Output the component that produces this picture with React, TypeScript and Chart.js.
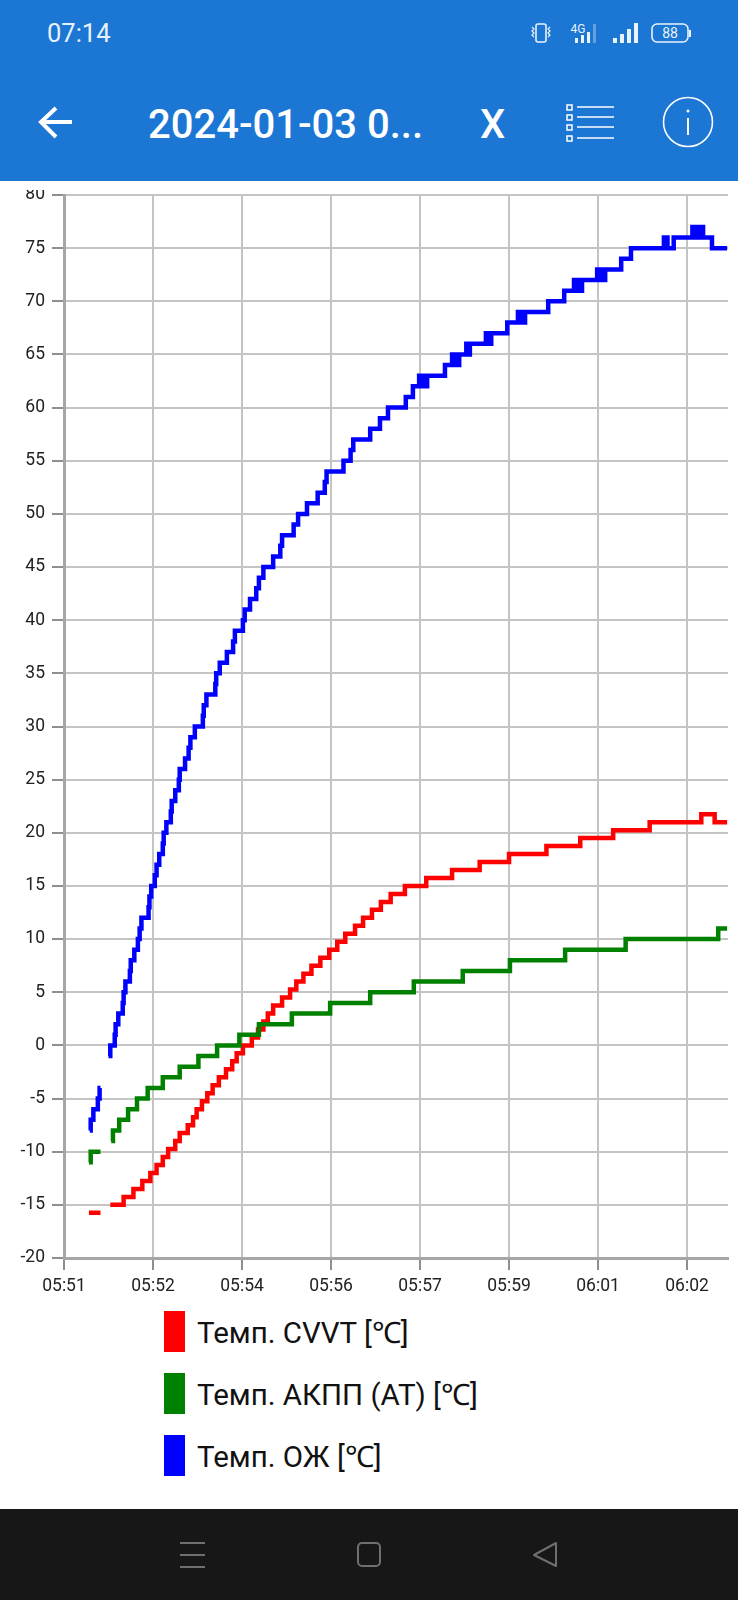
import React, { useEffect, useRef } from "react";
import { Chart, registerables } from "chart.js";

Chart.register(...registerables);

// Time axis: seconds after 05:51:00, one tick every 100 s
const tickLabels = ["05:51", "05:52", "05:54", "05:56", "05:57", "05:59", "06:01", "06:02"];
const seriesNames = ["Темп. CVVT [℃]", "Темп. АКПП (AT) [℃]", "Темп. ОЖ [℃]"];
const seriesColors = ["#ff0000", "#008000", "#0000ff"];

const redTimes = [28, 41, 45, 52, 67, 78, 88, 97, 104, 111, 117, 125, 130, 139, 145, 149, 155, 161, 167, 174, 182, 189, 194, 201, 211, 218, 224, 229, 235, 245, 254, 261, 269, 278, 288, 298, 307, 316, 327, 336, 346, 356, 367, 383, 407, 436, 467, 500, 542, 580, 617, 658, 716, 731, 745];
const redValues = [-15.75, -15.75, null, -15, -14.25, -13.5, -12.75, -12, -11.25, -10.5, -9.75, -9, -8.25, -7.5, -6.75, -6, -5.25, -4.5, -3.75, -3, -2.25, -1.5, -0.75, 0, 0.75, 1.5, 2.25, 3, 3.75, 4.5, 5.25, 6, 6.75, 7.5, 8.25, 9, 9.75, 10.5, 11.25, 12, 12.75, 13.5, 14.25, 15, 15.75, 16.5, 17.25, 18, 18.75, 19.5, 20.25, 21, 21.75, 21, 21];

const greenTimes = [28, 30, 41, 45, 53, 55, 62, 72, 82, 94, 111, 130, 151, 172, 197, 219, 256, 299, 344, 393, 448, 501, 563, 631, 735, 745];
const greenValues = [-11, -10, -10, null, -9, -8, -7, -6, -5, -4, -3, -2, -1, 0, 1, 2, 3, 4, 5, 6, 7, 8, 9, 10, 11, 11];

const blueTimes = [29, 30, 33, 38, 40, 41, 43, 50, 52, 57, 58, 61, 66, 67, 69, 74, 75, 79, 83, 85, 87, 95, 96, 98, 102, 104, 107, 111, 112, 115, 120, 121, 125, 129, 130, 136, 140, 142, 147, 156, 157, 160, 170, 171, 175, 183, 190, 192, 201, 203, 209, 216, 219, 224, 235, 243, 245, 258, 263, 273, 285, 293, 295, 314, 322, 325, 344, 355, 364, 384, 392, 399, 401, 403, 406, 408, 428, 436, 441, 444, 452, 454, 456, 474, 478, 480, 498, 510, 513, 518, 544, 562, 573, 577, 582, 599, 604, 608, 626, 637, 674, 678, 685, 706, 711, 715, 718, 728, 745];
const blueValues = [-8, -7, -6, -5, -4, -4, null, -1, 0, 1, 2, 3, 4, 5, 6, 7, 8, 9, 10, 11, 12, 13, 14, 15, 16, 17, 18, 19, 20, 21, 22, 23, 24, 25, 26, 27, 28, 29, 30, 31, 32, 33, 34, 35, 36, 37, 38, 39, 40, 41, 42, 43, 44, 45, 46, 47, 48, 49, 50, 51, 52, 53, 54, 55, 56, 57, 58, 59, 60, 61, 62, 63, 62, 63, 62, 63, 64, 65, 64, 65, 66, 65, 66, 67, 66, 67, 68, 69, 68, 69, 70, 71, 72, 71, 72, 73, 72, 73, 74, 75, 76, 75, 76, 77, 76, 77, 76, 75, 75];

const pairs = (times: number[], values: (number | null)[]) =>
  times.map((x, i) => ({ x, y: values[i] }));

const FONT = "Roboto, sans-serif";

function StatusIcons() {
  return (
    <svg width="738" height="60" style={{ position: "absolute", left: 0, top: 0 }}>
      <g fill="none" stroke="#eaf2fb" strokeWidth="1.6">
        <rect x="536" y="24" width="10" height="18" rx="2" />
        <path d="M532 27l2 2-2 2 2 2-2 2 2 2M550 27l-2 2 2 2-2 2 2 2-2 2" strokeWidth="1.2" />
        <rect x="652" y="24" width="36" height="18" rx="5" />
      </g>
      <text x="670" y="38" fontFamily={FONT} fontSize="14" fill="#eaf2fb" textAnchor="middle">88</text>
      <rect x="689" y="30" width="2" height="7" fill="#eaf2fb" />
      <text x="578" y="33" fontFamily={FONT} fontSize="12" fill="#eaf2fb" textAnchor="middle">4G</text>
      <g fill="#eaf2fb">
        <rect x="575" y="38" width="3" height="5" />
        <rect x="581" y="35" width="3" height="8" />
        <rect x="587" y="32" width="3" height="11" />
        <rect x="593" y="24" width="3" height="19" opacity="0.35" />
        <rect x="613" y="38" width="4" height="5" />
        <rect x="620" y="34" width="4" height="9" />
        <rect x="627" y="29" width="4" height="14" />
        <rect x="634" y="23" width="4" height="20" />
      </g>
    </svg>
  );
}

function ToolbarIcons() {
  const rows = [107, 117, 127, 138];
  return (
    <svg width="738" height="181" style={{ position: "absolute", left: 0, top: 0 }}>
      <path d="M72 122H42M56 108L41 122L56 137" fill="none" stroke="#fff" strokeWidth="4" />
      {rows.map((y) => (
        <g key={y}>
          <rect x="567" y={y - 2} width="5" height="5" fill="none" stroke="#fff" strokeWidth="1.5" />
          <line x1="577" x2="614" y1={y} y2={y} stroke="#fff" strokeWidth="1.6" />
        </g>
      ))}
      <circle cx="688" cy="122" r="24.5" fill="none" stroke="#fff" strokeWidth="1.6" />
      <line x1="688" x2="688" y1="118" y2="135" stroke="#fff" strokeWidth="2" />
      <circle cx="688" cy="111" r="1.5" fill="#fff" />
    </svg>
  );
}

function NavIcons() {
  return (
    <svg width="738" height="91" style={{ position: "absolute", left: 0, top: 0 }}>
      <g fill="none" stroke="#6f6f6f" strokeWidth="2">
        <path d="M180 34H205M180 46H205M180 58H205" />
        <rect x="358" y="34" width="22" height="23" rx="4" />
        <path d="M556 34V57L534 46Z" strokeLinejoin="round" />
      </g>
    </svg>
  );
}

export default function App() {
  const canvasRef = useRef<HTMLCanvasElement>(null);

  useEffect(() => {
    const ctx = canvasRef.current;
    if (!ctx) return;
    const seriesData = [pairs(redTimes, redValues), pairs(greenTimes, greenValues), pairs(blueTimes, blueValues)];
    const chart = new Chart(ctx, {
      type: "line",
      data: {
        datasets: seriesNames.map((label, i) => ({
          label,
          data: seriesData[i],
          borderColor: seriesColors[i],
          backgroundColor: seriesColors[i],
          borderWidth: 4.5,
          pointRadius: 0,
          stepped: true,
          spanGaps: false,
          borderCapStyle: "butt",
          borderJoinStyle: "miter",
          order: 3 - i,
        })),
      },
      options: {
        animation: false,
        responsive: false,
        maintainAspectRatio: false,
        parsing: false,
        normalized: true,
        layout: { padding: { top: 25, left: 0, right: 10, bottom: 0 } },
        plugins: { legend: { display: false }, tooltip: { enabled: false } },
        scales: {
          x: {
            type: "linear",
            min: 0,
            max: 746,
            grid: { color: "#c4c4c4", lineWidth: 2, tickLength: 12, tickColor: "#8f8f8f", tickWidth: 2 },
            border: { color: "#a6a6a6", width: 3 },
            ticks: {
              stepSize: 100,
              includeBounds: false,
              autoSkip: false,
              maxRotation: 0,
              padding: 6,
              color: "#222",
              font: { family: FONT, size: 17.5 },
              callback: (_v: unknown, i: number) => tickLabels[i],
            },
          },
          y: {
            min: -20,
            max: 80,
            afterFit: (s: { width: number }) => {
              s.width = 64;
            },
            grid: { color: "#c4c4c4", lineWidth: 2, tickLength: 12, tickColor: "#8f8f8f", tickWidth: 2 },
            border: { color: "#a6a6a6", width: 3 },
            ticks: {
              stepSize: 5,
              includeBounds: false,
              autoSkip: false,
              padding: 7,
              color: "#222",
              font: { family: FONT, size: 17.5 },
            },
          },
        },
      },
    } as never);
    return () => chart.destroy();
  }, []);

  return (
    <div style={{ position: "absolute", left: 0, top: 0, width: 738, height: 1600, background: "#fff", overflow: "hidden", fontFamily: FONT }}>
      <div style={{ position: "absolute", left: 0, top: 0, width: 738, height: 181, background: "#1b76d4" }}>
        <div style={{ position: "absolute", left: 47, top: 18, fontSize: 25.5, lineHeight: "30px", color: "#e8f1fb" }}>07:14</div>
        <StatusIcons />
        <ToolbarIcons />
        <div style={{ position: "absolute", left: 148, top: 101, fontSize: 40, lineHeight: "48px", fontWeight: 500, color: "#fff", whiteSpace: "nowrap" }}>2024-01-03 0...</div>
        <div style={{ position: "absolute", left: 480, top: 101, fontSize: 40, lineHeight: "48px", fontWeight: 500, color: "#fff" }}>X</div>
      </div>
      <div style={{ position: "absolute", left: 0, top: 190, width: 738, height: 1120, overflow: "hidden" }}>
        <canvas ref={canvasRef} width={738} height={1133} style={{ position: "absolute", left: 0, top: -20, width: 738, height: 1133 }} />
      </div>
      {seriesNames.map((name, i) => (
        <div key={name}>
          <div style={{ position: "absolute", left: 164, top: 1311 + i * 62, width: 21, height: 41, background: seriesColors[i] }} />
          <div style={{ position: "absolute", left: 197, top: 1313 + i * 62, lineHeight: "41px", fontSize: 29.5, color: "#111", whiteSpace: "nowrap" }}>{name}</div>
        </div>
      ))}
      <div style={{ position: "absolute", left: 0, top: 1509, width: 738, height: 91, background: "#171717" }}>
        <NavIcons />
      </div>
    </div>
  );
}
